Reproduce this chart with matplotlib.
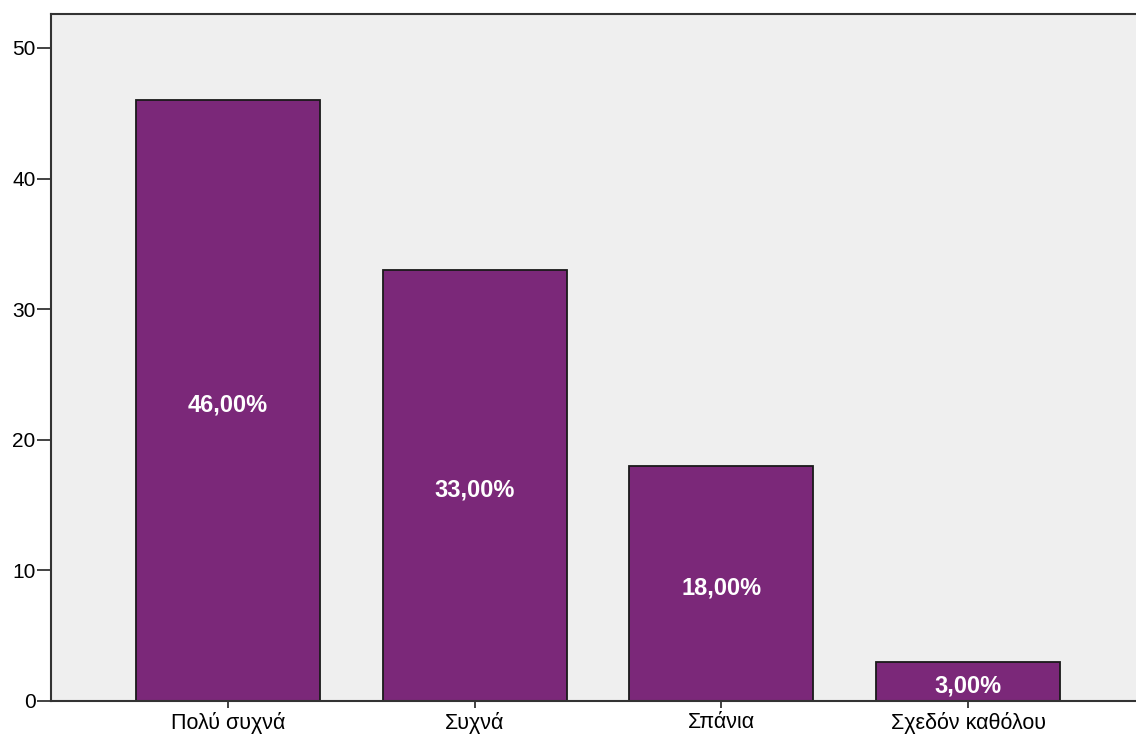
import numpy as np
import matplotlib.pyplot as plt

categories = ['Πολύ συχνά', 'Συχνά', 'Σπάνια', 'Σχεδόν καθόλου']
values = [46, 33, 18, 3]
labels = ['46,00%', '33,00%', '18,00%', '3,00%']
yticks = [0, 10, 20, 30, 40, 50]

plt.rcParams['font.family'] = ['Liberation Sans', 'DejaVu Sans']

fig = plt.figure(figsize=(11.36, 7.4), dpi=100)
ax = fig.add_axes([51 / 1136, 39 / 740, 1094 / 1136, 687 / 740])
ax.set_facecolor('#efefef')

x = np.arange(len(categories))
ax.bar(x, values, width=0.746, color='#7b2879', edgecolor='#1a1a1a', linewidth=1.3, zorder=2)

for xi, v, lab in zip(x, values, labels):
    ax.annotate(lab, (xi, v / 2), xytext=(0, -3), textcoords='offset points',
                ha='center', va='center', color='white',
                fontsize=17, fontweight='bold', zorder=3,
                family=['Liberation Sans Narrow', 'Liberation Sans'])

ax.set_xlim(-0.717, 3.717)
ax.set_ylim(0, 52.6)
ax.set_xticks(x)
ax.set_xticklabels(categories, fontsize=15.5)
ax.set_yticks(yticks)
ax.set_yticklabels([str(t) for t in yticks], fontsize=15)
ax.tick_params(axis='y', direction='out', length=10, width=1.2, color='#222222', pad=1)
ax.tick_params(axis='x', direction='out', length=5, width=1.2, color='#222222', pad=3)

for s in ['left', 'bottom', 'top']:
    ax.spines[s].set_linewidth(1.5)
    ax.spines[s].set_color('#333333')
ax.spines['right'].set_visible(False)

fig.savefig('out.png', dpi=100)
